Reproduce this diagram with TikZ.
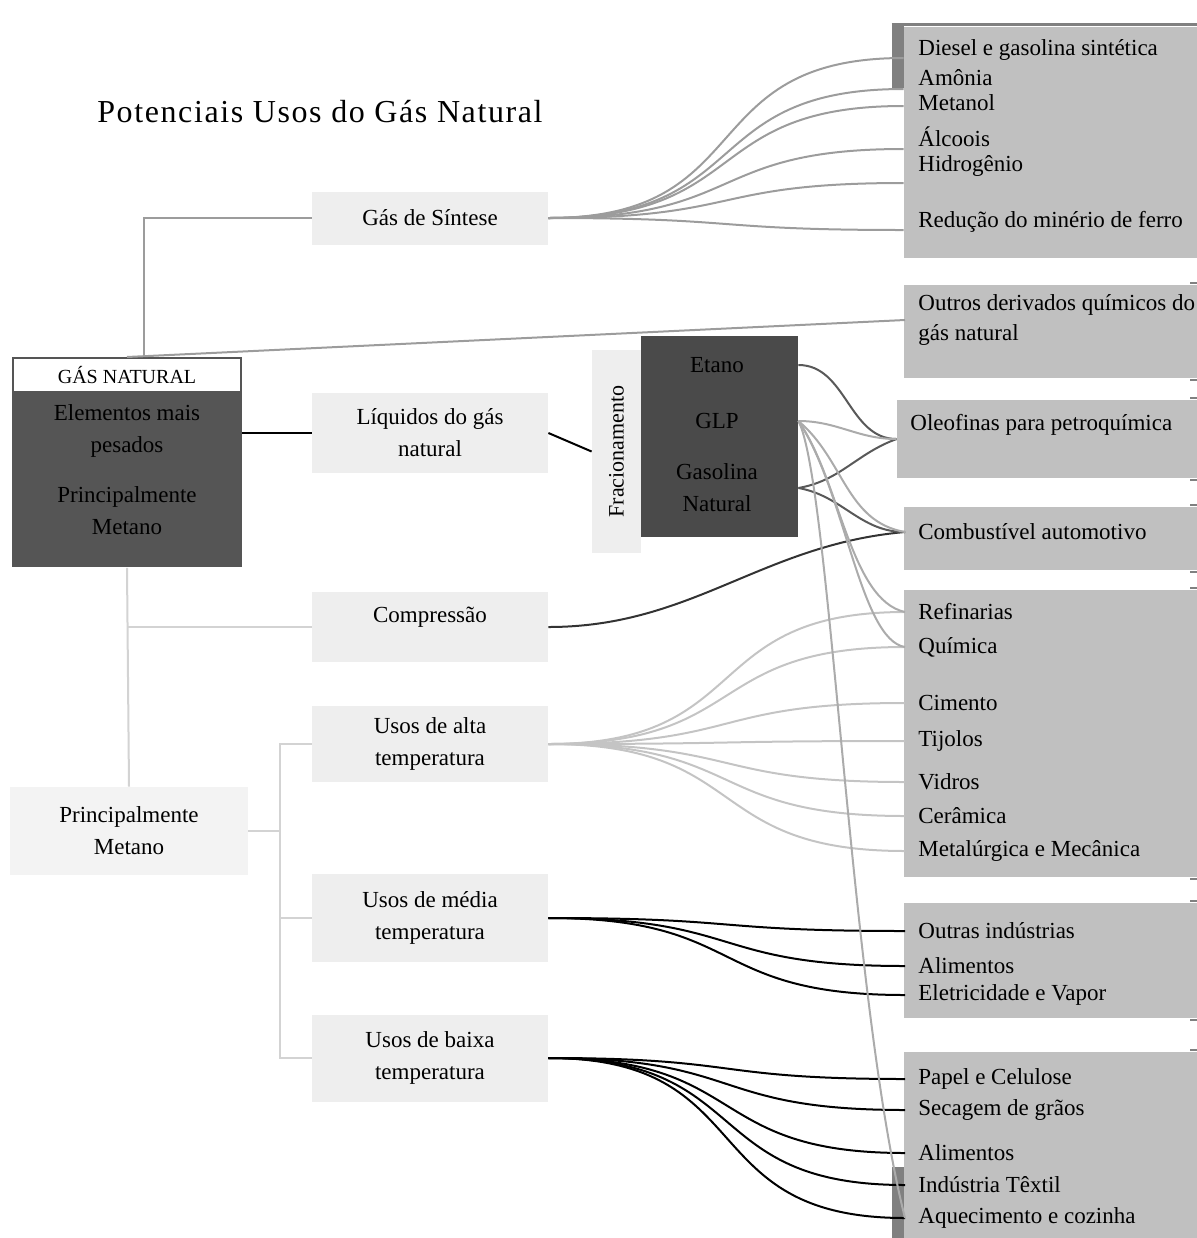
\documentclass[tikz,border=0pt]{standalone}
\usepackage{fontspec}
\setmainfont{Liberation Serif}
\newfontfamily\titlefont[LetterSpace=5]{Liberation Serif}
\usepackage{xcolor}
\definecolor{darkbox}{HTML}{555555}
\definecolor{prodgray}{HTML}{4A4A4A}
\definecolor{lightbox}{HTML}{EEEEEE}
\definecolor{palebox}{HTML}{F3F3F3}
\definecolor{usebox}{HTML}{C0C0C0}
\definecolor{tabgray}{HTML}{808080}
\definecolor{sinline}{HTML}{9C9C9C}
\definecolor{altaline}{HTML}{C4C4C4}
\definecolor{glpline}{HTML}{ABABAB}
\definecolor{treeline}{HTML}{D3D3D3}
\definecolor{fracline}{HTML}{595959}
\usepackage{tikz}
\usetikzlibrary{positioning}

\begin{document}
\begin{tikzpicture}[x=0.5pt,y=-0.5pt,
	txt/.style={font=\fontsize{11.5}{16}\selectfont, align=center},
	midbox/.style={txt, fill=lightbox, minimum width=118pt, inner sep=0pt},
	usesbox/.style={fill=usebox, minimum width=146.5pt, inner sep=0pt},
	tab/.style={fill=tabgray, minimum width=6pt, inner sep=0pt},
	item/.style={anchor=west, inner xsep=6.5pt, inner ysep=0pt, font=\fontsize{11.5}{15}\selectfont},
	link/.style={line width=1pt},
	fan/.style={link, out=0, in=180, looseness=1.4},
	tick/.style={tabgray, line width=1pt}]
	
	\useasboundingbox (0,0) rectangle (1197,1238);
	
	% title
	\node (title) at (320,112) {\titlefont\fontsize{16}{18}\selectfont Potenciais Usos do Gás Natural};
	
	% draw left boxes
	\node[draw=darkbox, line width=1pt, fill=white, minimum width=114pt, minimum height=17pt, inner sep=0pt, font=\fontsize{10}{12}\selectfont] (gnhead) at (127,375) {GÁS NATURAL};
	\node[txt, fill=darkbox, minimum width=115pt, minimum height=87pt, inner sep=0pt, below=0pt of gnhead] (gnbody) {Elementos mais\\pesados\\[9pt]Principalmente\\Metano\\[-10pt]\strut};
	\node[txt, fill=palebox, minimum width=119pt, minimum height=44pt, inner sep=0pt] (metano) at (129,831) {Principalmente\\Metano};
	
	\node[midbox, minimum height=26.5pt] (sintese) at (430,218) {Gás de Síntese};
	\node[midbox, minimum height=40pt] (liquidos) at (430,433) {Líquidos do gás\\natural};
	\node[midbox, minimum height=35pt] (compressao) at (430,627) {Compressão\\[-9pt]\strut};
	\node[midbox, minimum height=38pt] (alta) at (430,744) {Usos de alta\\temperatura};
	\node[midbox, minimum height=44pt] (media) at (430,918) {Usos de média\\temperatura};
	\node[midbox, minimum height=43.5pt] (baixa) at (430,1058) {Usos de baixa\\temperatura};
	
	% fractionation
	\node[fill=lightbox, minimum width=24.5pt, minimum height=101.5pt, inner sep=0pt] (frac) at (616.5,451.5) {};
	\node[rotate=90, font=\fontsize{11}{14}\selectfont] (fractxt) at (frac.center) {Fracionamento};
	\node[fill=prodgray, minimum width=78.5pt, minimum height=100.5pt, inner sep=0pt] (prod) at (719.5,436.5) {};
	\node[txt] (etano) at (717,365) {Etano};
	\node[txt] (glp) at (717,421) {GLP};
	\node[txt] (gasolina) at (717,488) {Gasolina\\Natural};
	
	% draw right boxes
	\node[usesbox, minimum height=115.5pt] (sinbox) at (1050.5,142.5) {};
	\node[tab, minimum height=31.5pt] (sintab) at (898,56.5) {};
	\draw[tabgray, line width=1.5pt] (sintab.north west) -- (sintab.north west -| sinbox.east);
	\node[usesbox, minimum height=46.5pt] (outbox) at (1050.5,331.5) {};
	\node[usesbox, minimum width=150pt, minimum height=39pt] (oleobox) at (1047,439) {};
	\node[usesbox, minimum height=31.5pt] (combbox) at (1050.5,538.5) {};
	\node[usesbox, minimum height=143.5pt] (indbox) at (1050.5,733.5) {};
	\node[usesbox, minimum height=57.5pt] (medbox) at (1050.5,960.5) {};
	\node[usesbox, minimum height=93pt] (baibox) at (1050.5,1145) {};
	\node[tab, minimum height=35.5pt] (baitab) at (898,1202.5) {};
	\foreach \b in {outbox,oleobox,combbox,indbox,medbox,baibox}{
		\draw[tick] ([yshift=1pt]\b.north east) -- ++(-7,0);
		\draw[tick] ([yshift=-1pt]\b.south east) -- ++(-7,0);
	}
	
	% items
	\node[item] (diesel) at (905,50) {Diesel e gasolina sintética};
	\node[item] (amonia) at (905,78) {Amônia};
	\node[item] (metanol) at (905,103) {Metanol};
	\node[item] (alcoois) at (905,137) {Álcoois};
	\node[item] (hidrogenio) at (905,166) {Hidrogênio};
	\node[item] (reducao) at (905,222) {Redução do minério de ferro};
	\node[item, align=left] (outrostxt) at (905,320) {Outros derivados químicos do\\gás natural};
	\node[item] (oleotxt) at (897,425) {Oleofinas para petroquímica};
	\node[item] (combtxt) at (905,532) {Combustível automotivo};
	\node[item] (refinarias) at (905,612) {Refinarias};
	\node[item] (quimica) at (905,647) {Química};
	\node[item] (cimento) at (905,703) {Cimento};
	\node[item] (tijolos) at (905,741) {Tijolos};
	\node[item] (vidros) at (905,782) {Vidros};
	\node[item] (ceramica) at (905,816) {Cerâmica};
	\node[item] (metalurgica) at (905,851) {Metalúrgica e Mecânica};
	\node[item] (outras) at (905,931) {Outras indústrias};
	\node[item] (alimentosm) at (905,966) {Alimentos};
	\node[item] (eletricidade) at (905,995) {Eletricidade e Vapor};
	\node[item] (papel) at (905,1079) {Papel e Celulose};
	\node[item] (secagem) at (905,1110) {Secagem de grãos};
	\node[item] (alimentosb) at (905,1153) {Alimentos};
	\node[item] (textil) at (905,1185) {Indústria Têxtil};
	\node[item] (aquecimento) at (905,1218) {Aquecimento e cozinha};
	
	%draw links
	\draw[link, sinline] (gnhead.north) -- coordinate[pos=0.022] (gnjoin) (outrostxt.west);
	\draw[link, sinline] (gnjoin) |- (sintese.west);
	\foreach \n/\y in {1/58,2/89,3/106,4/149,5/183,6/230}
		\coordinate (sy\n) at (sinbox.west |- 0,\y);
	\foreach \t in {sy1,sy2,sy3,sy4,sy5,sy6}
		\draw[fan, sinline] (sintese.east) to (\t);
	
	\draw[link] (liquidos.west -| gnbody.east) -- (liquidos.west);
	\draw[link] (liquidos.east) -- (frac.west);
	
	\draw[link, treeline] (gnbody.south) -- (metano.north);
	\draw[link, treeline] (compressao.west -| gnbody.south) -- (compressao.west);
	\coordinate (spine) at (280,0);
	\draw[link, treeline] (metano.east) -- (metano.east -| spine);
	\draw[link, treeline] (alta.west) -- (alta.west -| spine) -- (baixa.west -| spine) -- (baixa.west);
	\draw[link, treeline] (media.west -| spine) -- (media.west);
	
	\draw[link, black!80] (compressao.east) to[out=0,in=185] (combtxt.west);
	
	\foreach \t in {refinarias,quimica,cimento,tijolos,vidros,ceramica,metalurgica}
		\draw[fan, altaline] (alta.east) to (\t.west);
	\foreach \t in {outras,alimentosm,eletricidade}
		\draw[fan] (media.east) to (\t.west);
	\foreach \t in {papel,secagem,alimentosb,textil,aquecimento}
		\draw[fan] (baixa.east) to (\t.west);
	
	% from the fractionation
	\draw[link, fracline] (etano -| prod.east) to[out=0,in=180] (oleobox.west);
	\draw[link, fracline] (gasolina -| prod.east) to[out=10,in=200] (oleobox.west);
	\draw[link, fracline] (gasolina -| prod.east) to[out=-10,in=180] (combtxt.west);
	\draw[link, glpline] (glp -| prod.east) to[out=0,in=180] (oleobox.west);
	\draw[link, glpline] (glp -| prod.east) to[out=-40,in=170] (combtxt.west);
	\draw[link, glpline] (glp -| prod.east) .. controls (840,480) and (850,600) .. (refinarias.west);
	\draw[link, glpline] (glp -| prod.east) .. controls (845,490) and (860,640) .. (quimica.west);
	\draw[link, glpline] (glp -| prod.east) .. controls (830,480) and (850,1000) .. (aquecimento.west);
	
\end{tikzpicture}
\end{document}
